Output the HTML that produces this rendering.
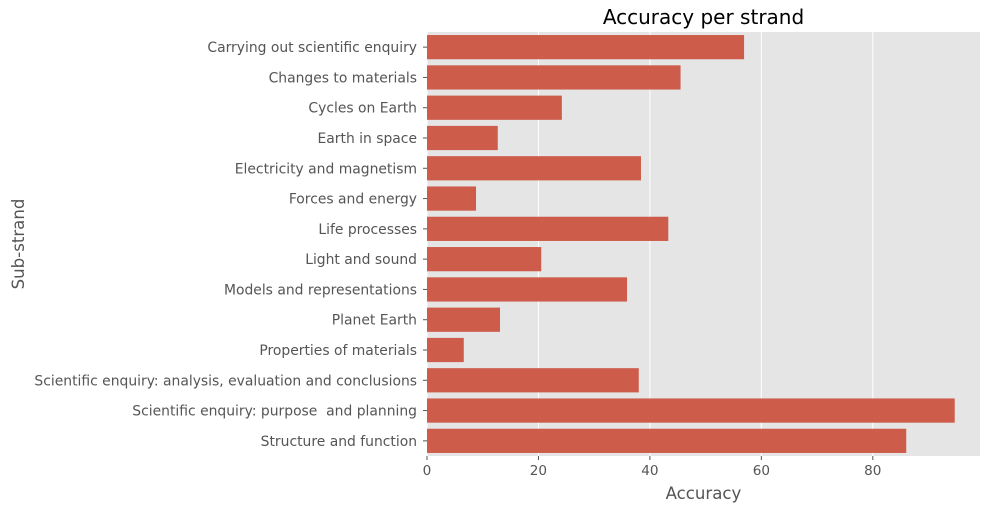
<!DOCTYPE html>
<html><head><meta charset="utf-8"><style>
body{margin:0;background:#fff;font-family:"DejaVu Sans",sans-serif}
text{white-space:pre}
</style></head><body>
<svg id="chart" width="1004" height="513" xmlns="http://www.w3.org/2000/svg" font-family="DejaVu Sans, sans-serif"></svg>
<script>
const categories=["Carrying out scientific enquiry","Changes to materials","Cycles on Earth","Earth in space","Electricity and magnetism","Forces and energy","Life processes","Light and sound","Models and representations","Planet Earth","Properties of materials","Scientific enquiry: analysis, evaluation and conclusions","Scientific enquiry: purpose  and planning","Structure and function"];
const values=[56.9,45.5,24.2,12.7,38.4,8.8,43.3,20.5,35.9,13.1,6.6,38.0,94.7,86.0];
const xTicks=[0,20,40,60,80];
const svg=document.getElementById('chart');
const NS='http://www.w3.org/2000/svg';
const L=427,R=980,T=32,B=456;
const x=v=>L+v*5.5725;
const band=(B-T)/categories.length;
const y=i=>T+band*i;
function mk(tag,attrs,parent){const e=document.createElementNS(NS,tag);for(const k in attrs)e.setAttribute(k,attrs[k]);(parent||svg).appendChild(e);return e;}
const bg=mk('rect',{x:L,y:T,width:R-L,height:B-T,fill:'#E5E5E5'});


xTicks.forEach(t=>{
  const g=mk('line',{x1:x(t),x2:x(t),y1:T,y2:B,stroke:'#fff','stroke-width':1});
  
  
  const tk=mk('line',{x1:x(t),x2:x(t),y1:B,y2:B+4,stroke:'#555','stroke-width':1});
  
  
  const tl=mk('text',{x:x(t),y:B+19,'text-anchor':'middle','font-size':13.6,fill:'#555'});
  tl.textContent=t;
  
  
});
categories.forEach((c,i)=>{
  const cy=y(i)+band/2;
  const b=mk('rect',{x:L,y:cy-band*0.4,width:x(values[i])-L,height:band*0.8,fill:'#CD5C4A'});
  
  
  const tk=mk('line',{x1:L-4,x2:L,y1:cy,y2:cy,stroke:'#555','stroke-width':1});
  
  
  const tl=mk('text',{x:L-10,y:cy+5,'text-anchor':'end','font-size':13.9,fill:'#555'});
  tl.textContent=c;
  
  
});
const title=mk('text',{x:(L+R)/2,y:24,'text-anchor':'middle','font-size':20,fill:'#000'});
title.textContent='Accuracy per strand';


const xl=mk('text',{x:(L+R)/2,y:499,'text-anchor':'middle','font-size':16.6,fill:'#555'});
xl.textContent='Accuracy';


const yl=mk('text',{x:0,y:0,'text-anchor':'middle','font-size':16.6,fill:'#555',transform:'translate(24,'+((T+B)/2)+') rotate(-90)'});
yl.textContent='Sub-strand';


</script>
</body></html>
